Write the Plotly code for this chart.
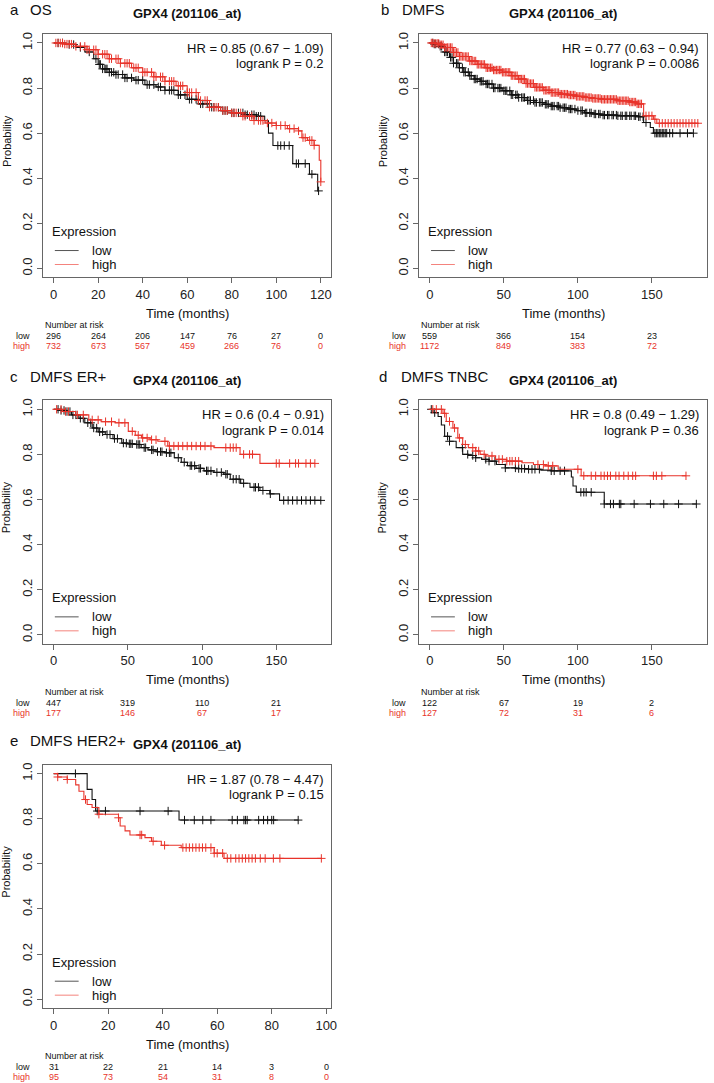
import numpy as np
import plotly.graph_objects as go

# ---------------- data ----------------
# Panel a: OS
a_low_t = [0, 5, 10, 14, 18, 20, 22, 25, 28, 32, 36, 41, 46, 50, 56, 60, 65, 70, 75, 80, 86, 91, 94.8, 96.5, 98.5, 107.4, 114.9, 118.6]
a_low_s = [1.0, 0.993, 0.98, 0.96, 0.93, 0.905, 0.885, 0.87, 0.86, 0.845, 0.835, 0.815, 0.805, 0.79, 0.77, 0.75, 0.73, 0.715, 0.70, 0.69, 0.682, 0.675, 0.655, 0.60, 0.545, 0.465, 0.418, 0.344]
a_low_c = [2, 4, 7, 9, 12, 16, 19, 20.5, 21, 22, 23, 23.5, 24, 25, 26, 27, 28, 29, 31, 32, 33, 35, 37, 38, 40, 42, 43, 45, 47, 48, 50, 52, 53, 54, 56, 57, 59, 61, 62, 64, 66, 67, 69, 71, 72, 74, 76, 77, 78, 80, 81, 83, 85, 86, 87, 89, 90, 91, 92, 93, 100.7, 102, 103.6, 105.8, 109, 110, 113, 116, 119]
a_high_t = [0, 5, 10, 15, 20, 25, 30, 35, 40, 45, 50, 55, 60, 65, 70, 75, 80, 85, 90, 95, 100, 105, 110, 111.5, 114, 117, 119.3, 120]
a_high_s = [1.0, 0.995, 0.985, 0.97, 0.95, 0.93, 0.91, 0.89, 0.87, 0.85, 0.83, 0.81, 0.78, 0.745, 0.715, 0.70, 0.69, 0.675, 0.656, 0.645, 0.634, 0.62, 0.61, 0.58, 0.568, 0.546, 0.48, 0.384]
a_high_c = [1, 2, 3, 4, 5, 6, 7, 8, 10, 12, 14, 15, 16, 18, 19, 20, 22, 23, 24, 25, 26, 28, 29, 30, 32, 33, 34, 36, 37, 38, 40, 41, 42, 44, 45, 46, 48, 49, 50, 52, 53, 54, 56, 57, 58, 60, 61, 62, 64, 65, 66, 68, 69, 70, 72, 73, 74, 76, 77, 78, 80, 81, 82, 84, 85, 86, 88, 89, 90, 92, 93, 94, 96, 98, 100, 102, 104, 106, 108, 110, 112, 113, 115, 116, 117, 120]
a_ticks = [0, 20, 40, 60, 80, 100, 120]
a_risk_low = [296, 264, 206, 147, 76, 27, 0]
a_risk_high = [732, 673, 567, 459, 266, 76, 0]

# Panel b: DMFS
b_low_t = [0, 3, 6.7, 10, 13.3, 16, 20, 23, 26.7, 30, 34, 37.8, 43, 48.9, 55, 60, 65, 71, 77, 82, 88, 93, 99, 104.4, 110, 115.6, 126.7, 140, 144.4, 148.9, 151]
b_low_s = [1.0, 0.995, 0.985, 0.96, 0.936, 0.91, 0.89, 0.87, 0.855, 0.84, 0.83, 0.818, 0.80, 0.788, 0.77, 0.758, 0.745, 0.736, 0.728, 0.72, 0.713, 0.707, 0.70, 0.69, 0.685, 0.68, 0.677, 0.673, 0.647, 0.625, 0.60]
b_low_c = [2, 3, 4, 6, 7, 8, 10, 11, 12, 14, 15, 16, 18, 19, 20, 22, 23, 24, 26, 27, 28, 30, 31, 32, 34, 35, 36, 38, 39, 40, 42, 43, 44, 46, 47, 48, 50, 51, 52, 54, 55, 56, 58, 59, 60, 62, 63, 64, 66, 67, 68, 70, 71, 72, 74, 75, 76, 78, 79, 80, 82, 83, 84, 86, 87, 88, 90, 91, 92, 94, 95, 96, 98, 100, 102, 103, 105, 106, 108, 109, 111, 112, 114, 115, 117, 118, 120, 121, 123, 124, 126, 127, 129, 130, 132, 133, 135, 136, 138, 139, 141, 142, 144, 146, 152, 153, 154, 155, 156, 157, 158, 159, 160, 162, 164, 169, 174, 178]
b_high_t = [0, 3, 6.7, 10, 15.6, 20, 26.7, 32, 37.8, 43, 48.9, 55, 60, 65, 71, 77, 82, 88, 93.3, 99, 104.4, 110, 115.6, 126.7, 135, 140, 144.4, 151, 153.3]
b_high_s = [1.0, 0.998, 0.992, 0.98, 0.958, 0.94, 0.92, 0.905, 0.89, 0.88, 0.87, 0.855, 0.84, 0.82, 0.803, 0.79, 0.78, 0.773, 0.769, 0.763, 0.758, 0.754, 0.75, 0.744, 0.738, 0.73, 0.677, 0.662, 0.644]
b_high_c = [1, 2, 3, 4, 5, 6, 7, 8, 9, 10, 11, 12, 13, 14, 15, 16, 17, 18, 19, 20, 21, 22, 23, 24, 25, 26, 27, 28, 29, 30, 31, 32, 33, 34, 35, 36, 37, 38, 39, 40, 41, 42, 43, 44, 45, 46, 47, 48, 49, 50, 51, 52, 53, 54, 55, 56, 57, 58, 59, 60, 61, 62, 63, 64, 65, 66, 67, 68, 69, 70, 71, 72, 73, 74, 75, 76, 77, 78, 79, 80, 81, 82, 83, 84, 85, 86, 87, 88, 89, 90, 91, 92, 93, 94, 95, 96, 97, 98, 99, 100, 101, 102, 103, 104, 105, 106, 107, 108, 109, 110, 111, 112, 113, 114, 115, 116, 117, 118, 119, 120, 121, 122, 123, 124, 125, 126, 127, 128, 129, 130, 131, 132, 133, 134, 135, 136, 137, 138, 139, 140, 141, 142, 143, 146, 148, 150, 152, 155, 157, 159, 161, 163, 165, 167, 169, 171, 173, 175, 177, 179, 181]
b_ticks = [0, 50, 100, 150]
b_risk_low = [559, 366, 154, 23]
b_risk_high = [1172, 849, 383, 72]

# Panel c: DMFS ER+
c_low_t = [0, 4, 8.2, 12, 17, 21, 26, 30, 34.8, 40, 45.9, 50, 54.7, 59, 63.6, 69, 74.7, 81.3, 86, 90.2, 96, 101.3, 108, 114.6, 119, 126, 132.3, 139, 145.6, 152.2]
c_low_s = [1.0, 0.995, 0.99, 0.975, 0.96, 0.94, 0.917, 0.9, 0.888, 0.87, 0.85, 0.847, 0.844, 0.83, 0.82, 0.812, 0.807, 0.785, 0.765, 0.75, 0.738, 0.727, 0.72, 0.712, 0.69, 0.672, 0.654, 0.64, 0.625, 0.596]
c_low_c = [3, 5, 7, 9, 11, 13, 15, 18, 20, 23, 25, 27, 29, 31, 33, 36, 38, 41, 43, 47, 49, 51, 52, 53, 56, 57, 58, 61, 62, 66, 67, 70, 72, 73, 76, 78, 79, 84, 88, 92, 93, 95, 98, 99, 103, 104, 106, 110, 113, 116, 117, 121, 123, 125, 128, 135, 136, 138, 141, 146, 155, 158, 161, 164, 167, 170, 173, 176, 180]
c_high_t = [0, 6, 14.8, 23.7, 32, 41.4, 50.3, 55, 59.2, 65, 70.2, 76.9, 108, 125.6, 139]
c_high_s = [1.0, 0.99, 0.975, 0.953, 0.945, 0.94, 0.902, 0.885, 0.873, 0.865, 0.858, 0.837, 0.83, 0.80, 0.76]
c_high_c = [2, 5, 8, 10, 16, 20, 26, 30, 35, 39, 44, 48, 53, 57, 60, 63, 66, 69, 75, 78, 81, 84, 87, 90, 93, 96, 99, 102, 106, 116, 119, 121, 123, 128, 132, 134, 150, 152, 159, 163, 165, 170, 173, 176]
c_ticks = [0, 50, 100, 150]
c_risk_low = [447, 319, 110, 21]
c_risk_high = [177, 146, 67, 17]

# Panel d: DMFS TNBC
d_low_t = [0, 2.2, 5.6, 7.8, 10, 13.3, 17.8, 22.2, 26, 31, 35, 40, 45, 51, 58, 66.7, 75, 82, 95.6, 96.7, 98.9, 117.8]
d_low_s = [1.0, 0.985, 0.968, 0.93, 0.88, 0.858, 0.83, 0.80, 0.795, 0.785, 0.778, 0.77, 0.755, 0.74, 0.737, 0.734, 0.73, 0.727, 0.70, 0.66, 0.632, 0.58]
d_low_c = [1, 3.3, 12, 13.3, 22, 25.6, 29, 31, 37.8, 40, 44, 51, 57.8, 60, 62, 64, 66.7, 69, 71, 74, 82, 84, 88, 91, 102, 104, 105.6, 109, 117.8, 122, 124, 128, 129, 138, 149, 158, 168, 180]
d_high_t = [0, 8.9, 11.1, 15.6, 18.9, 22.2, 26, 31, 34, 37.8, 44.4, 52, 62.2, 70, 77.8, 86.7, 102.2]
d_high_s = [1.0, 0.982, 0.946, 0.917, 0.873, 0.844, 0.83, 0.815, 0.80, 0.793, 0.778, 0.77, 0.763, 0.755, 0.749, 0.734, 0.705]
d_high_c = [2, 4.4, 7.8, 10, 13.3, 16.7, 20, 24, 29, 31, 33, 36.7, 42, 46.7, 49, 52, 54, 55.6, 57.8, 60, 73, 76.7, 80, 83, 100, 104, 109, 112, 115.6, 117.8, 120, 122, 125.6, 127.8, 131, 134, 137, 139, 151, 153, 156.7, 173]
d_ticks = [0, 50, 100, 150]
d_risk_low = [122, 67, 19, 2]
d_risk_high = [127, 72, 31, 6]

# Panel e: DMFS HER2+
e_low_t = [0, 12.3, 14.1, 15.4, 46]
e_low_s = [1.0, 0.93, 0.885, 0.834, 0.794]
e_low_c = [8, 16, 19, 31.7, 42, 48, 51.6, 54.7, 57.7, 65.5, 67.4, 69.8, 70.4, 71, 75.2, 77, 78.5, 80, 80.7, 89.7]
e_high_t = [0, 1.5, 5, 8.1, 9.3, 11.1, 12.3, 14.1, 16.6, 23.8, 24.4, 26.2, 28, 33.5, 35.9, 39.5, 46.8, 58.9, 62.5]
e_high_s = [1.0, 0.985, 0.974, 0.95, 0.922, 0.885, 0.863, 0.85, 0.82, 0.804, 0.768, 0.746, 0.728, 0.716, 0.70, 0.682, 0.672, 0.647, 0.624]
e_high_c = [1.5, 5, 11.7, 16.6, 23.8, 31.7, 32.3, 36.5, 40.7, 47.4, 48.6, 49.8, 51, 52.2, 53.4, 54.6, 55.8, 57.7, 58.9, 60, 62, 63.7, 65, 66.8, 68, 69.2, 70.4, 71.6, 72.8, 74, 75.8, 77.6, 80.6, 83, 98.2]
e_ticks = [0, 20, 40, 60, 80, 100]
e_risk_low = [31, 22, 21, 14, 3, 0]
e_risk_high = [95, 73, 54, 31, 8, 0]

panel_letters = ["a", "b", "c", "d", "e"]
panel_names = ["OS", "DMFS", "DMFS ER+", "DMFS TNBC", "DMFS HER2+"]
hr_texts = ["HR = 0.85 (0.67 \u2212 1.09)", "HR = 0.77 (0.63 \u2212 0.94)", "HR = 0.6 (0.4 \u2212 0.91)",
            "HR = 0.8 (0.49 \u2212 1.29)", "HR = 1.87 (0.78 \u2212 4.47)"]
p_texts = ["logrank P = 0.2", "logrank P = 0.0086", "logrank P = 0.014", "logrank P = 0.36", "logrank P = 0.15"]
probe_title = "GPX4 (201106_at)"

# ---------------- layout geometry (pixels) ----------------
W, H = 714, 1083
RED = "#e8332a"
BLACK = "#111111"
FONT = "Liberation Sans, Arial, sans-serif"


def P(x):
    return x / W


def Q(y):
    return 1 - y / H


boxes = [  # left, right, top, bottom
    (43.3, 334.3, 32, 276),
    (422.7, 713, 32, 276),
    (43.3, 334.3, 399, 643),
    (422.7, 713, 399, 643),
    (43.3, 334.3, 764, 1008),
]
title_x = [(8, 28), (382, 403), (8, 28), (380, 402), (8, 28)]
xranges = [[-4.8, 124.8], [-7.2, 187.2], [-7.2, 187.2], [-7.2, 187.2], [-3.92, 101.92]]

panels = [
    dict(lt=a_low_t, ls=a_low_s, lc=a_low_c, ht=a_high_t, hs=a_high_s, hc=a_high_c, ticks=a_ticks, rl=a_risk_low, rh=a_risk_high),
    dict(lt=b_low_t, ls=b_low_s, lc=b_low_c, ht=b_high_t, hs=b_high_s, hc=b_high_c, ticks=b_ticks, rl=b_risk_low, rh=b_risk_high),
    dict(lt=c_low_t, ls=c_low_s, lc=c_low_c, ht=c_high_t, hs=c_high_s, hc=c_high_c, ticks=c_ticks, rl=c_risk_low, rh=c_risk_high),
    dict(lt=d_low_t, ls=d_low_s, lc=d_low_c, ht=d_high_t, hs=d_high_s, hc=d_high_c, ticks=d_ticks, rl=d_risk_low, rh=d_risk_high),
    dict(lt=e_low_t, ls=e_low_s, lc=e_low_c, ht=e_high_t, hs=e_high_s, hc=e_high_c, ticks=e_ticks, rl=e_risk_low, rh=e_risk_high),
]

fig = go.Figure()
annotations = []
shapes = []


def km_at(times, surv, t):
    idx = np.searchsorted(np.array(times), np.array(t), side="right") - 1
    return np.array(surv)[idx]


for i, pnl in enumerate(panels):
    n = "" if i == 0 else str(i + 1)
    xa, ya = "x" + n, "y" + n
    left, right, top, bottom = boxes[i]

    for t, s, c, col in [(pnl["lt"], pnl["ls"], pnl["lc"], BLACK), (pnl["ht"], pnl["hs"], pnl["hc"], RED)]:
        end = max(max(c), t[-1])
        xs = list(t) + [end]
        ys = list(s) + [s[-1]]
        fig.add_trace(go.Scatter(x=xs, y=ys, mode="lines", line=dict(color=col, width=1.1, shape="hv"),
                                 xaxis=xa, yaxis=ya, showlegend=False, hoverinfo="skip"))
        fig.add_trace(go.Scatter(x=c, y=km_at(t, s, c), mode="markers",
                                 marker=dict(symbol="cross-thin", size=6, line=dict(color=col, width=1)),
                                 xaxis=xa, yaxis=ya, showlegend=False, hoverinfo="skip"))

    axis_common = dict(showgrid=False, zeroline=False, showline=True, mirror=True, linecolor="#666666",
                       linewidth=1, ticks="outside", ticklen=5, tickcolor="#666666",
                       tickfont=dict(family=FONT, size=13, color="#222222"))
    fig.update_layout(**{
        ("xaxis" + n): dict(domain=[P(left), P(right)], anchor=ya, range=xranges[i],
                            tickvals=pnl["ticks"], **axis_common),
        ("yaxis" + n): dict(domain=[Q(bottom), Q(top)], anchor=xa, range=[-0.04, 1.04],
                            tickvals=[0, 0.2, 0.4, 0.6, 0.8, 1.0],
                            ticktext=["0.0", "0.2", "0.4", "0.6", "0.8", "1.0"],
                            tickangle=-90, **axis_common),
    })

    # titles
    annotations.append(dict(x=P(title_x[i][0]), y=Q(top - 24), xref="paper", yref="paper", text=panel_letters[i],
                            showarrow=False, xanchor="left", yanchor="middle",
                            font=dict(family=FONT, size=15, color=BLACK)))
    annotations.append(dict(x=P(title_x[i][1]), y=Q(top - 24), xref="paper", yref="paper", text=panel_names[i],
                            showarrow=False, xanchor="left", yanchor="middle",
                            font=dict(family=FONT, size=15, color=BLACK)))
    annotations.append(dict(x=P(left + 145), y=Q(top - 20), xref="paper", yref="paper",
                            text="<b>" + probe_title + "</b>", showarrow=False, xanchor="center",
                            yanchor="middle", font=dict(family=FONT, size=13, color=BLACK)))
    # HR / logrank
    annotations.append(dict(x=P(right - 6), y=Q(top + 14.5), xref="paper", yref="paper", text=hr_texts[i],
                            showarrow=False, xanchor="right", yanchor="middle",
                            font=dict(family=FONT, size=13, color=BLACK)))
    annotations.append(dict(x=P(right - 6), y=Q(top + 30), xref="paper", yref="paper", text=p_texts[i],
                            showarrow=False, xanchor="right", yanchor="middle",
                            font=dict(family=FONT, size=13, color=BLACK)))
    # y title
    annotations.append(dict(x=P(left - 37), y=Q(top + 107), xref="paper", yref="paper", text="Probability",
                            showarrow=False, textangle=-90, xanchor="center", yanchor="middle",
                            font=dict(family=FONT, size=11, color=BLACK)))
    # x title
    annotations.append(dict(x=P((left + right) / 2), y=Q(bottom + 36), xref="paper", yref="paper",
                            text="Time (months)", showarrow=False, xanchor="center", yanchor="middle",
                            font=dict(family=FONT, size=13, color=BLACK)))
    # legend
    annotations.append(dict(x=P(left + 7), y=Q(bottom - 46), xref="paper", yref="paper", text="Expression",
                            showarrow=False, xanchor="left", yanchor="middle",
                            font=dict(family=FONT, size=13, color=BLACK)))
    for lab, dy, col in [("low", 27, "#555555"), ("high", 13, "#f4837d")]:
        annotations.append(dict(x=P(left + 47), y=Q(bottom - dy), xref="paper", yref="paper", text=lab,
                                showarrow=False, xanchor="left", yanchor="middle",
                                font=dict(family=FONT, size=13, color=BLACK)))
        shapes.append(dict(type="line", xref="paper", yref="paper", x0=P(left + 12), x1=P(left + 36),
                           y0=Q(bottom - dy), y1=Q(bottom - dy), line=dict(color=col, width=1)))
    # number at risk
    annotations.append(dict(x=P(left), y=Q(bottom + 48), xref="paper", yref="paper", text="Number at risk",
                            showarrow=False, xanchor="left", yanchor="middle",
                            font=dict(family=FONT, size=9, color=BLACK)))
    for lab, dy, col, vals in [("low", 59, BLACK, pnl["rl"]), ("high", 69, RED, pnl["rh"])]:
        annotations.append(dict(x=P(left - 11), y=Q(bottom + dy), xref="paper", yref="paper", text=lab,
                                showarrow=False, xanchor="right", yanchor="middle",
                                font=dict(family=FONT, size=9, color=col)))
        for tv, v in zip(pnl["ticks"], vals):
            annotations.append(dict(x=tv, y=Q(bottom + dy), xref=xa, yref="paper", text=str(v),
                                    showarrow=False, xanchor="center", yanchor="middle",
                                    font=dict(family=FONT, size=9, color=col)))

fig.update_layout(width=W, height=H, margin=dict(l=0, r=0, t=0, b=0), paper_bgcolor="white",
                  plot_bgcolor="white", annotations=annotations, shapes=shapes, showlegend=False)
fig.write_html("out.html", config={"displayModeBar": False},
               post_script="document.body.style.margin='0px';document.body.style.padding='0px';")
